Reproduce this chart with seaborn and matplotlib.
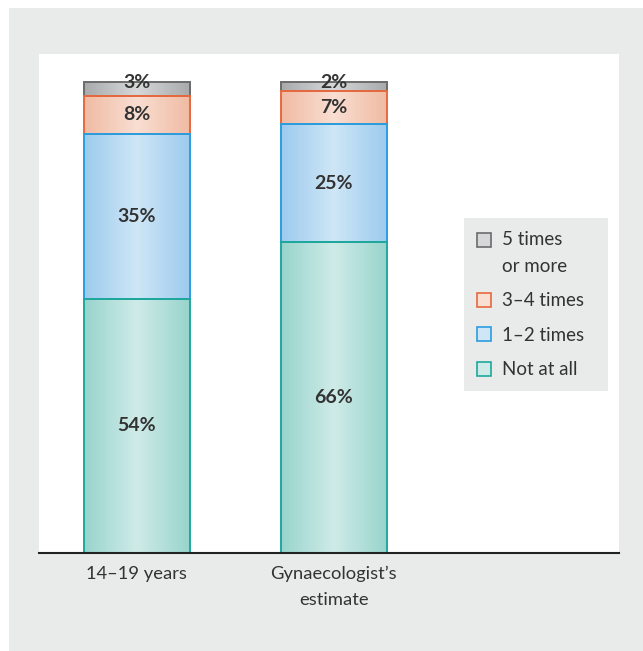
import numpy as np
import pandas as pd
import seaborn as sns
import matplotlib.pyplot as plt
from matplotlib.patches import Rectangle, Patch
from matplotlib.colors import LinearSegmentedColormap

# Data
groups = ["14\u201319 years", "Gynaecologist\u2019s\nestimate"]
not_at_all = [54, 66]
one_two = [35, 25]
three_four = [8, 7]
five_more = [3, 2]

series = ["5 times\nor more", "3\u20134 times", "1\u20132 times", "Not at all"]
values = {"5 times\nor more": five_more, "3\u20134 times": three_four,
          "1\u20132 times": one_two, "Not at all": not_at_all}
edge_cols = {"5 times\nor more": "#6b6b6b", "3\u20134 times": "#e8683f",
             "1\u20132 times": "#2b9de0", "Not at all": "#1fa89d"}
side_cols = {"5 times\nor more": "#a9aaac", "3\u20134 times": "#f0bba3",
             "1\u20132 times": "#9ccbee", "Not at all": "#98d4cc"}
mid_cols = {"5 times\nor more": "#d6d7d8", "3\u20134 times": "#f9ded2",
            "1\u20132 times": "#cfe6f6", "Not at all": "#cfebe8"}

df = pd.DataFrame({"group": groups, "Not at all": not_at_all, "1\u20132 times": one_two,
                   "3\u20134 times": three_four, "5 times\nor more": five_more})
# bottoms for stacking
bottoms = {"Not at all": np.zeros(2)}
bottoms["1\u20132 times"] = np.array(not_at_all, float)
bottoms["3\u20134 times"] = bottoms["1\u20132 times"] + np.array(one_two)
bottoms["5 times\nor more"] = bottoms["3\u20134 times"] + np.array(three_four)

sns.set_style("white")
plt.rcParams['font.family'] = ['Lato', 'DejaVu Sans']
txt = "#333333"

fig = plt.figure(figsize=(6.43, 6.51), dpi=100)
fig.patch.set_facecolor("white")
fig.patches.append(Rectangle((9 / 643, 0), 1, (651 - 8) / 651, transform=fig.transFigure,
                             facecolor="#e9eaea", edgecolor="none", zorder=-5))
ax = fig.add_axes([39 / 643, (651 - 553) / 651, 580 / 643, 499 / 651])
ax.set_facecolor("white")

# draw top segments first so lower segment edges sit on top
for i, s in enumerate(series):
    sns.barplot(data=df, x="group", y=s, bottom=bottoms[s], ax=ax, width=0.538,
                color=mid_cols[s], facecolor="none", edgecolor=edge_cols[s],
                linewidth=1.4, zorder=3 + i, errorbar=None)
    cmap = LinearSegmentedColormap.from_list(s, [side_cols[s], mid_cols[s], side_cols[s]])
    grad = np.linspace(0, 1, 256).reshape(1, -1)
    for p in ax.patches[-2:]:
        x0, y0 = p.get_x(), p.get_y()
        w, h = p.get_width(), p.get_height()
        im = ax.imshow(grad, cmap=cmap, aspect="auto", extent=[x0, x0 + w, y0, y0 + h],
                       zorder=2, interpolation="bicubic")
        im.set_clip_path(p)
    # labels
    for j in range(2):
        v = values[s][j]
        b = bottoms[s][j]
        y = b + v / 2 if v >= 5 else b + v - 0.2
        ax.text(j, y, f"{v}%", ha="center", va="center", fontsize=14,
                fontweight="bold", color=txt, zorder=10)

ax.set_xlim(-0.497, 2.447)
ax.set_ylim(0, 105.9)
ax.set_xlabel("")
ax.set_ylabel("")
ax.set_yticks([])
ax.tick_params(axis="x", length=0, labelsize=13.2, colors=txt, pad=9)
for t in ax.get_xticklabels():
    t.set_linespacing(1.8)
for sp in ["top", "right", "left"]:
    ax.spines[sp].set_visible(False)
ax.spines["bottom"].set_color("#222222")
ax.spines["bottom"].set_linewidth(1.5)
ax.spines["bottom"].set_zorder(20)

handles = [Patch(facecolor=mid_cols[s], edgecolor=edge_cols[s], linewidth=1.2, label=s)
           for s in series]
leg = ax.legend(handles=handles, loc="upper left", mode="expand",
                bbox_to_anchor=(0.7328, 0.6713, 0.248, 0.0), borderaxespad=0,
                frameon=True, fancybox=False, facecolor="#e9eaea", edgecolor="none",
                framealpha=1, fontsize=13.5, handlelength=0.75, handleheight=0.75,
                handletextpad=0.6, labelspacing=0.93, borderpad=0.7, labelcolor=txt)
leg.set_zorder(30)
for t in leg.get_texts():
    t.set_linespacing(1.7)
# put the first handle beside the first text line
h0 = leg.legend_handles[0]
h0.set_y(h0.get_y() + 9.6)

fig.savefig("out.png", dpi=100)
